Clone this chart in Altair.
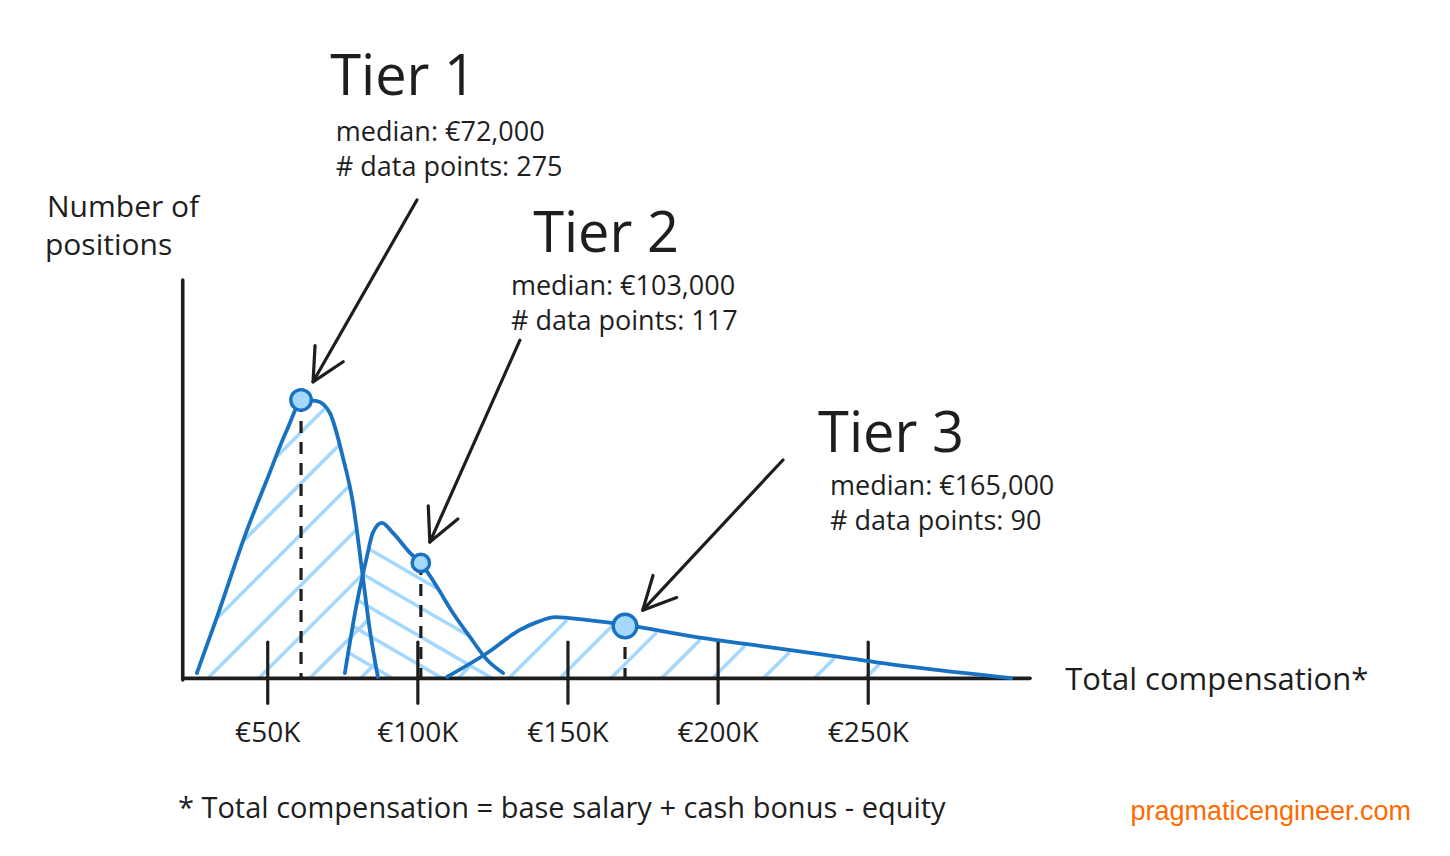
import math
import numpy as np
import pandas as pd
import altair as alt

# ---------------- data ----------------
tiers = ["Tier 1", "Tier 2", "Tier 3"]
medians = ["€72,000", "€103,000", "€165,000"]
data_points = [275, 117, 90]

# curve outlines (x in K€, y in relative "number of positions")
t1_x = [26.4, 33.1, 43.1, 49.7, 56.4, 61.7, 66.4, 70.7, 75.0, 78.4, 81.4, 84.0, 86.7]
t1_y = [1.9, 22.0, 53.3, 71.3, 89.3, 100.1, 99.7, 95.4, 79.6, 63.0, 38.9, 17.4, 0.5]
t2_x = [75.7, 79.7, 83.0, 85.0, 88.0, 91.7, 97.4, 101.0, 106.4, 111.7, 117.4, 123.1, 128.4]
t2_y = [1.9, 27.1, 43.6, 52.3, 55.9, 52.3, 45.1, 41.5, 32.8, 23.5, 14.8, 6.6, 1.9]
t3_x = [109.7, 123.1, 134.0, 139.7, 145.7, 156.7, 169.0, 192.3, 216.3, 240.3, 264.3, 297.6]
t3_y = [0.5, 9.1, 17.4, 20.2, 22.0, 20.9, 19.2, 14.9, 11.3, 7.7, 4.1, 0.1]

# median markers as drawn
dot_x = [61.1, 101.0, 169.0]
dot_y = [100.1, 41.5, 18.8]

tick_values = [50, 100, 150, 200, 250]
tick_labels = ["€50K", "€100K", "€150K", "€200K", "€250K"]

# ---------------- layout ----------------
W, H = 1434, 840
XD = [-36.5, 441.1]
YD = [-61.0, 241.0]
PX = W / (XD[1] - XD[0])
PY = H / (YD[1] - YD[0])

BLUE = "#1971c2"
LIGHT = "#a5d8ff"
INK = "#1e1e1e"
FONT = "Open Sans"

xs = alt.Scale(domain=XD, nice=False, zero=False)
ys = alt.Scale(domain=YD, nice=False, zero=False)

curve_df = pd.concat([
    pd.DataFrame({"tier": tiers[0], "x": t1_x, "y": t1_y, "o": range(len(t1_x))}),
    pd.DataFrame({"tier": tiers[1], "x": t2_x, "y": t2_y, "o": range(len(t2_x))}),
    pd.DataFrame({"tier": tiers[2], "x": t3_x, "y": t3_y, "o": range(len(t3_x))}),
])


def hatch(cx, cy, slope, spacing, inset=3.0):
    """Hatch segments clipped to the area under a curve (computed in pixel space)."""
    X = np.array(cx) * PX
    Y = np.array(cy) * PY
    grid = np.linspace(X.min(), X.max(), 3000)
    top = np.interp(grid, X, Y)
    out = []
    ang = math.atan(abs(slope))
    cs = np.arange(X.min() - 600, X.max() + 600, spacing / math.sin(ang))
    for c in cs:
        yl = slope * (grid - c)
        inside = (yl >= 0) & (yl <= top - inset)
        if not inside.any():
            continue
        idx = np.where(inside)[0]
        runs = np.split(idx, np.where(np.diff(idx) != 1)[0] + 1)
        for r in runs:
            if len(r) < 4:
                continue
            a, b = r[0], r[-1]
            if abs(grid[b] - grid[a]) < 8:
                continue
            out.append({"x": grid[a] / PX, "y": yl[a] / PY,
                        "x2": grid[b] / PX, "y2": yl[b] / PY})
    return out


hatch_df = pd.DataFrame(
    hatch(t1_x, t1_y, 1.0, 36) + hatch(t2_x, t2_y, -0.58, 25) + hatch(t3_x, t3_y, 1.0, 36)
)

base = alt.Chart(curve_df)

hatch_layer = alt.Chart(hatch_df).mark_rule(color=LIGHT, strokeWidth=3.6, strokeCap="round").encode(
    x=alt.X("x:Q", scale=xs, axis=None), y=alt.Y("y:Q", scale=ys, axis=None),
    x2="x2:Q", y2="y2:Q")

curve_layer = base.mark_line(color=BLUE, strokeWidth=3.8, interpolate="monotone",
                             strokeCap="round").encode(
    x=alt.X("x:Q", scale=xs, axis=None), y=alt.Y("y:Q", scale=ys, axis=None),
    detail="tier:N", order="o:Q")

# axes drawn as sketch lines
axis_df = pd.DataFrame({"x": [21.7, 22.4], "y": [143.2, 0.0], "x2": [21.7, 303.9], "y2": [-0.6, 0.0]})
axis_layer = alt.Chart(axis_df).mark_rule(color=INK, strokeWidth=3.6, strokeCap="round").encode(
    x=alt.X("x:Q", scale=xs, axis=None), y=alt.Y("y:Q", scale=ys, axis=None),
    x2="x2:Q", y2="y2:Q")

tick_df = pd.DataFrame({"v": tick_values, "lab": tick_labels})
tick_layer = alt.Chart(tick_df).mark_rule(color=INK, strokeWidth=3.2, strokeCap="round").encode(
    x=alt.X("v:Q", scale=xs, axis=None),
    y=alt.Y("top:Q", scale=ys, axis=None), y2="bot:Q").transform_calculate(top="13", bot="-9")
tick_text = alt.Chart(tick_df).mark_text(font=FONT, fontSize=28, color=INK, baseline="middle").encode(
    x=alt.X("v:Q", scale=xs, axis=None),
    y=alt.Y("ty:Q", scale=ys, axis=None), text="lab:N").transform_calculate(ty="-20")

dot_df = pd.DataFrame({"x": dot_x, "y": dot_y, "tier": tiers, "s": [420, 300, 560]})
dash_layer = alt.Chart(dot_df).mark_rule(color=INK, strokeWidth=3.2, strokeDash=[12, 9]).encode(
    x=alt.X("x:Q", scale=xs, axis=None), y=alt.Y("y:Q", scale=ys, axis=None),
    y2=alt.datum(0))
dot_layer = alt.Chart(dot_df).mark_point(filled=True, fill=LIGHT, stroke=BLUE, strokeWidth=3.4,
                                         opacity=1, shape="circle").encode(
    x=alt.X("x:Q", scale=xs, axis=None), y=alt.Y("y:Q", scale=ys, axis=None),
    size=alt.Size("s:Q", scale=None, legend=None))

# arrows (tail -> tip)
arrow_df = pd.DataFrame({
    "x": [99.7, 134.0, 221.6], "y": [172.0, 121.6, 78.5],
    "x2": [65.1, 104.0, 174.9], "y2": [106.6, 49.0, 24.5],
})
arrow_df["ang"] = [
    (math.degrees(math.atan2(-(y2 - y) * PY, (x2 - x) * PX)) + 360) % 360
    for x, y, x2, y2 in zip(arrow_df.x, arrow_df.y, arrow_df.x2, arrow_df.y2)
]
shaft = alt.Chart(arrow_df).mark_rule(color=INK, strokeWidth=3.2, strokeCap="round").encode(
    x=alt.X("x:Q", scale=xs, axis=None), y=alt.Y("y:Q", scale=ys, axis=None),
    x2="x2:Q", y2="y2:Q")
head = alt.Chart(arrow_df).mark_point(
    shape="M-1,-0.5L0,0L-1,0.5", filled=False, stroke=INK, strokeWidth=3.2, size=4200,
    opacity=1, strokeCap="round", strokeJoin="round").encode(
    x=alt.X("x2:Q", scale=xs, axis=None), y=alt.Y("y2:Q", scale=ys, axis=None),
    angle=alt.Angle("ang:Q", scale=None))

# annotation texts
title_df = pd.DataFrame({"t": tiers, "x": [70.8, 138.4, 233.3], "y": [209.7, 153.3, 81.4]})
title_layer = alt.Chart(title_df).mark_text(font=FONT, fontSize=56, color=INK, align="left",
                                            baseline="alphabetic").encode(
    x=alt.X("x:Q", scale=xs, axis=None), y=alt.Y("y:Q", scale=ys, axis=None), text="t:N")

info_df = pd.DataFrame({
    "t": [f"median: {m}" for m in medians] + [f"# data points: {n}" for n in data_points],
    "x": [72.7, 131.0, 237.3, 72.7, 131.0, 237.3],
    "y": [193.2, 137.8, 65.9, 180.6, 125.3, 53.3],
})
info_layer = alt.Chart(info_df).mark_text(font=FONT, fontSize=27, color=INK, align="left",
                                          baseline="alphabetic").encode(
    x=alt.X("x:Q", scale=xs, axis=None), y=alt.Y("y:Q", scale=ys, axis=None), text="t:N")

misc_df = pd.DataFrame({
    "t": ["Number of", "positions", "Total compensation*",
          "* Total compensation = base salary + cash bonus - equity"],
    "x": [-23.5, -24.2, 315.6, 20.1],
    "y": [165.9, 152.2, -4.2, -50.2],
    "fs": [30, 30, 31, 29],
})
misc_layer = alt.Chart(misc_df).mark_text(font=FONT, color=INK, align="left",
                                          baseline="alphabetic").encode(
    x=alt.X("x:Q", scale=xs, axis=None), y=alt.Y("y:Q", scale=ys, axis=None), text="t:N",
    size=alt.Size("fs:Q", scale=None, legend=None))

brand_df = pd.DataFrame({"t": ["pragmaticengineer.com"], "x": [430.8], "y": [-51.0]})
brand_layer = alt.Chart(brand_df).mark_text(font="Liberation Sans", fontSize=27, color="#ff6a00",
                                            align="right", baseline="alphabetic").encode(
    x=alt.X("x:Q", scale=xs, axis=None), y=alt.Y("y:Q", scale=ys, axis=None), text="t:N")

chart = alt.layer(
    hatch_layer, axis_layer, tick_layer, curve_layer, dash_layer, dot_layer,
    shaft, head, title_layer, info_layer, misc_layer, tick_text, brand_layer,
).properties(
    width=W, height=H, padding=0, autosize=alt.AutoSizeParams(type="none"),
    background="white",
).configure_view(strokeWidth=0)

chart.save("out.html", embed_options={"renderer": "svg", "actions": False})
